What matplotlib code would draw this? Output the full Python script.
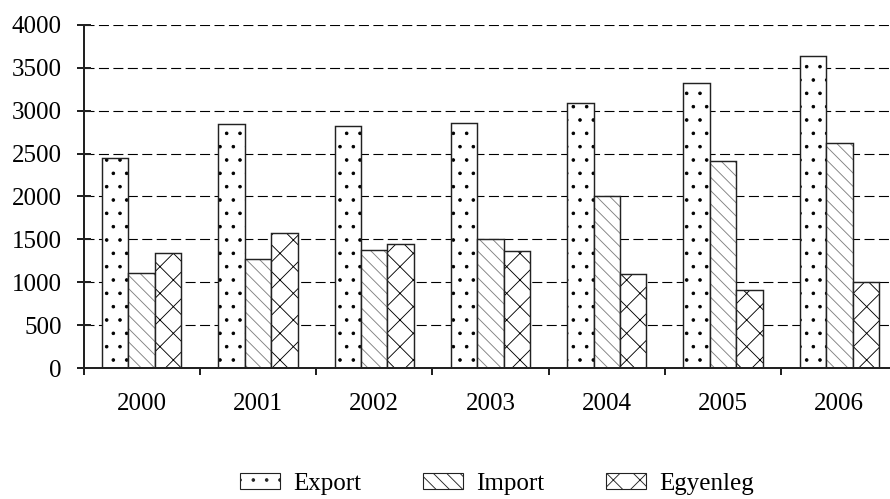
import numpy as np
import matplotlib
matplotlib.use("Agg")
import matplotlib.pyplot as plt
import matplotlib.patches as mpatches

years = ["2000", "2001", "2002", "2003", "2004", "2005", "2006"]
export = [2450, 2840, 2820, 2860, 3090, 3320, 3630]
imports = [1110, 1270, 1380, 1500, 2000, 2410, 2620]
egyenleg = [1340, 1570, 1450, 1360, 1100, 910, 1000]

series = [
    ("Export", export, ".", "black"),
    ("Import", imports, "\\\\", "#808080"),
    ("Egyenleg", egyenleg, "x", "black"),
]

plt.rcParams["font.family"] = ["Liberation Serif", "DejaVu Serif"]
plt.rcParams["hatch.linewidth"] = 0.8

DPI = 80
FS = 22.5
fig = plt.figure(figsize=(890 / DPI, 499 / DPI), dpi=DPI)
ax = fig.add_axes([83.5 / 890, (499 - 368.3) / 499, 814 / 890, 343.6 / 499])

x = np.arange(len(years))
w = 0.227

# dashed grid behind bars
ax.set_axisbelow(True)
ax.yaxis.grid(True, color="black", linewidth=1.0, linestyle=(0, (9, 4)))

handles = []
for i, (name, vals, hatch, hcol) in enumerate(series):
    pos = x + (i - 1) * w
    # hatch layer, then a black outline on top
    ax.bar(pos, vals, w, color="white", edgecolor=hcol, hatch=hatch, linewidth=0)
    ax.bar(pos, vals, w, fill=False, edgecolor="#222222", linewidth=1.3)
    handles.append(mpatches.Patch(facecolor="white", edgecolor="#222222",
                                  hatch=hatch, linewidth=1.0, label=name))

ax.set_xlim(-0.5, len(years) - 0.5)
ax.set_ylim(0, 4000)
ax.set_yticks(np.arange(0, 4001, 500))

ax.set_xticks(x)
ax.set_xticklabels(years)
ax.set_xticks(np.arange(-0.5, len(years), 1.0), minor=True)
ax.tick_params(axis="x", which="major", length=0, pad=22, labelsize=FS)
ax.tick_params(axis="x", which="minor", direction="out", length=6, width=1.8, color="#222222")
ax.tick_params(axis="y", direction="inout", length=12, width=1.8, pad=13.5,
               labelsize=FS, color="#222222")

for s in ["top", "right"]:
    ax.spines[s].set_visible(False)
for s in ["left", "bottom"]:
    ax.spines[s].set_linewidth(1.8)
    ax.spines[s].set_color("#222222")

fig.legend(handles=handles, loc="center", bbox_to_anchor=(497 / 890, 1 - 484 / 499),
           ncol=3, frameon=False, fontsize=FS, handlelength=1.6, handleheight=0.6,
           handletextpad=0.5, columnspacing=2.5, borderpad=0.2)

fig.savefig("out.png", dpi=DPI)
